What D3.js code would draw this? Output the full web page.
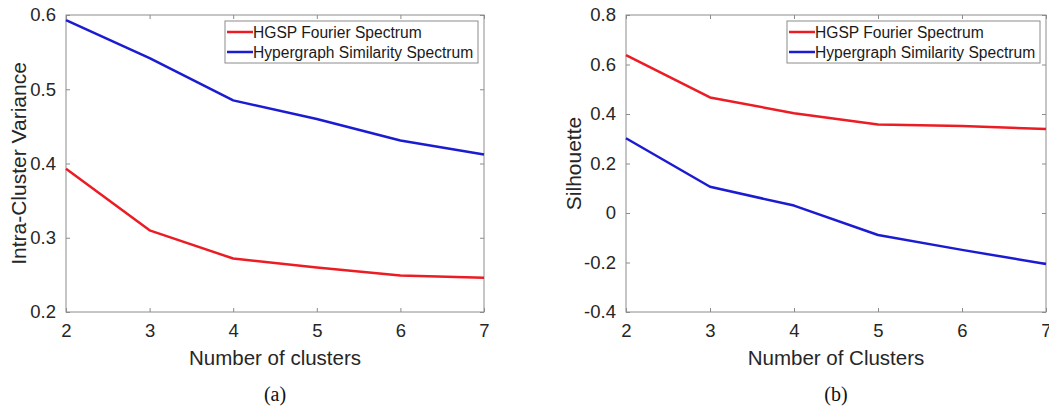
<!DOCTYPE html>
<html>
<head>
<meta charset="utf-8">
<script src="https://cdn.jsdelivr.net/npm/d3@7"></script>
<style>
  body { margin: 0; background: #fff; }
  svg { display: block; }
</style>
</head>
<body>
<div id="chart"></div>
<script>
const clusters = [2, 3, 4, 5, 6, 7];
const seriesNames = ['HGSP Fourier Spectrum', 'Hypergraph Similarity Spectrum'];
const seriesColors = ['#ec1c24', '#1b1bd2'];

// (a) intra-cluster variance
const varianceFourier = [0.393, 0.310, 0.272, 0.260, 0.249, 0.246];
const varianceSimilarity = [0.593, 0.542, 0.485, 0.460, 0.431, 0.412];
const varianceTicks = [0.2, 0.3, 0.4, 0.5, 0.6];

// (b) silhouette
const silhouetteFourier = [0.638, 0.467, 0.403, 0.358, 0.352, 0.339];
const silhouetteSimilarity = [0.302, 0.106, 0.030, -0.089, -0.149, -0.206];
const silhouetteTicks = [-0.4, -0.2, 0, 0.2, 0.4, 0.6, 0.8];

const width = 1049;
const height = 407;
const sans = 'Liberation Sans, Arial, sans-serif';

const svg = d3.select('#chart')
    .append('svg')
    .attr('width', width)
    .attr('height', height);

function drawPanel(opts) {
    const x = d3.scaleLinear().domain([2, 7]).range([opts.left, opts.right]);
    const y = d3.scaleLinear().domain(opts.domain).range([312, 15]);
    const g = svg.append('g');

    // inward ticks on all four sides, MATLAB style
    const tickLen = 4;
    const axisColor = '#8c8c8c';
    g.append('g')
        .attr('transform', 'translate(0,312)')
        .call(d3.axisBottom(x).tickValues(clusters).tickSize(-tickLen).tickPadding(12).tickFormat(d3.format('d')))
        .call(a => a.select('.domain').remove());
    g.append('g')
        .attr('transform', 'translate(0,15)')
        .call(d3.axisTop(x).tickValues(clusters).tickSize(-tickLen).tickFormat(''))
        .call(a => a.select('.domain').remove());
    g.append('g')
        .attr('transform', `translate(${opts.left},0)`)
        .call(d3.axisLeft(y).tickValues(opts.ticks).tickSize(-tickLen).tickPadding(10)
            .tickFormat(d => d === 0 ? '0' : d.toFixed(1)))
        .call(a => a.select('.domain').remove());
    g.append('g')
        .attr('transform', `translate(${opts.right},0)`)
        .call(d3.axisRight(y).tickValues(opts.ticks).tickSize(-tickLen).tickFormat(''))
        .call(a => a.select('.domain').remove());

    g.selectAll('.tick line').attr('stroke', axisColor);
    g.selectAll('.tick text')
        .attr('fill', '#262626')
        .style('font-family', sans)
        .style('font-size', '18.5px');

    g.append('rect')
        .attr('x', opts.left)
        .attr('y', 15)
        .attr('width', opts.right - opts.left)
        .attr('height', 297)
        .attr('fill', 'none')
        .attr('stroke', axisColor)
        .attr('stroke-width', 1);

    const line = d3.line()
        .x((d, i) => x(clusters[i]))
        .y(d => y(d));

    opts.series.forEach((s, i) => {
        g.append('path')
            .datum(s)
            .attr('d', line)
            .attr('fill', 'none')
            .attr('stroke', seriesColors[i])
            .attr('stroke-width', 2.5)
            .attr('stroke-linejoin', 'round');
    });

    // legend
    const lg = g.append('g').attr('transform', `translate(${opts.legendX},21)`);
    lg.append('rect')
        .attr('width', 253)
        .attr('height', 42)
        .attr('fill', '#fff')
        .attr('stroke', '#8c8c8c');
    seriesNames.forEach((name, i) => {
        const ly = 11 + i * 20;
        lg.append('line')
            .attr('x1', 2).attr('x2', 28)
            .attr('y1', ly).attr('y2', ly)
            .attr('stroke', seriesColors[i])
            .attr('stroke-width', 2.5);
        lg.append('text')
            .attr('x', 28)
            .attr('y', ly + 5.5)
            .attr('fill', '#1a1a1a')
            .style('font-family', sans)
            .style('font-size', '15.6px')
            .text(name);
    });

    // axis titles
    g.append('text')
        .attr('x', (opts.left + opts.right) / 2)
        .attr('y', 365)
        .attr('text-anchor', 'middle')
        .attr('fill', '#262626')
        .style('font-family', sans)
        .style('font-size', '20.5px')
        .text(opts.xTitle);

    g.append('text')
        .attr('transform', `translate(${opts.yTitleX},${(15 + 312) / 2}) rotate(-90)`)
        .attr('text-anchor', 'middle')
        .attr('fill', '#262626')
        .style('font-family', sans)
        .style('font-size', '21px')
        .text(opts.yTitle);

    // panel caption
    g.append('text')
        .attr('x', (opts.left + opts.right) / 2)
        .attr('y', 401)
        .attr('text-anchor', 'middle')
        .attr('fill', '#111')
        .style('font-family', 'Liberation Serif, Times New Roman, serif')
        .style('font-size', '20px')
        .text(opts.caption);
}

drawPanel({
    left: 66, right: 484,
    domain: [0.2, 0.6], ticks: varianceTicks,
    series: [varianceFourier, varianceSimilarity],
    legendX: 225,
    xTitle: 'Number of clusters',
    yTitle: 'Intra-Cluster Variance',
    yTitleX: 26,
    caption: '(a)'
});

drawPanel({
    left: 626, right: 1046,
    domain: [-0.4, 0.8], ticks: silhouetteTicks,
    series: [silhouetteFourier, silhouetteSimilarity],
    legendX: 787,
    xTitle: 'Number of Clusters',
    yTitle: 'Silhouette',
    yTitleX: 581,
    caption: '(b)'
});
</script>
</body>
</html>
